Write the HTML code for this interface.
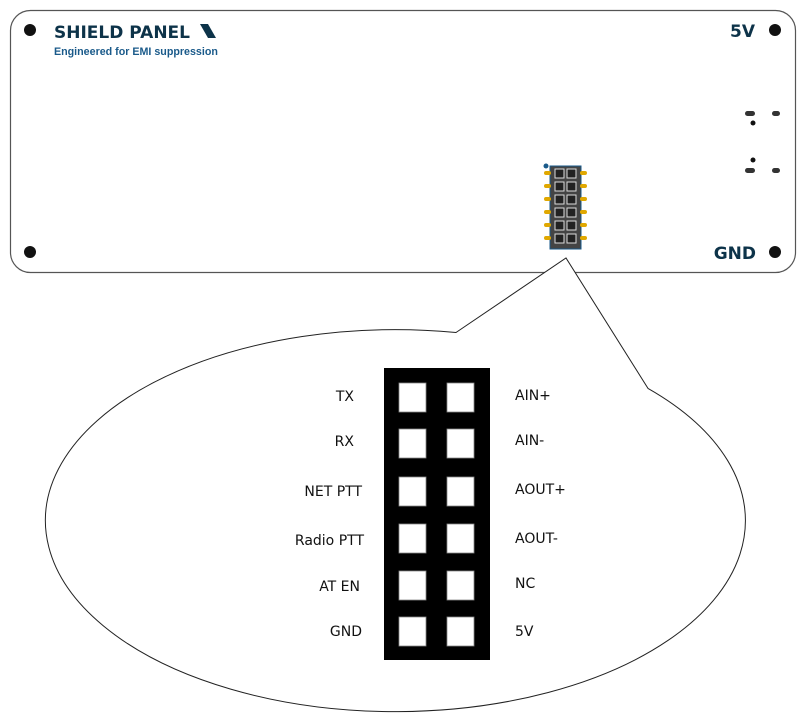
<!DOCTYPE html>
<html><head><style>
body{margin:0;background:#fff;width:806px;height:717px;overflow:hidden}
</style></head><body>
<svg width="806" height="717" viewBox="0 0 806 717" xmlns="http://www.w3.org/2000/svg" style="font-family:'DejaVu Sans',sans-serif">
<rect x="10.5" y="10.5" width="785" height="262" rx="20" fill="#fff" stroke="#555" stroke-width="1.2"/>
<circle cx="30" cy="30" r="6" fill="#111"/>
<circle cx="775" cy="30" r="6" fill="#111"/>
<circle cx="30" cy="252" r="6" fill="#111"/>
<circle cx="775" cy="252" r="6" fill="#111"/>
<text x="54" y="38" font-size="17" font-weight="bold" fill="#0d3349">SHIELD PANEL</text>
<polygon points="200,24 208,24 216,38 208,38" fill="#0d3349"/>
<text x="54" y="55" font-size="10.7" font-weight="bold" fill="#1a5a8a" font-family="Liberation Sans,sans-serif">Engineered for EMI suppression</text>
<text x="755" y="37" font-size="17" font-weight="bold" fill="#0d3349" text-anchor="end">5V</text>
<text x="756" y="259" font-size="17" font-weight="bold" fill="#0d3349" text-anchor="end">GND</text>
<rect x="745" y="111" width="10" height="5" rx="2.5" fill="#333"/>
<rect x="772" y="111" width="8" height="5" rx="2.5" fill="#333"/>
<circle cx="753" cy="123" r="2.5" fill="#111"/>
<circle cx="753" cy="160" r="2.5" fill="#111"/>
<rect x="745" y="168" width="10" height="5" rx="2.5" fill="#333"/>
<rect x="772" y="168" width="8" height="5" rx="2.5" fill="#333"/>
<circle cx="546" cy="166" r="2.5" fill="#1a5a8a"/>
<g>
<rect x="550" y="166" width="31" height="83" fill="#444" stroke="#1a5a8a" stroke-width="1"/>
<g fill="#e0a800">
<rect x="544" y="171" width="7" height="4" rx="2"/><rect x="580" y="171" width="7" height="4" rx="2"/>
<rect x="544" y="184" width="7" height="4" rx="2"/><rect x="580" y="184" width="7" height="4" rx="2"/>
<rect x="544" y="197" width="7" height="4" rx="2"/><rect x="580" y="197" width="7" height="4" rx="2"/>
<rect x="544" y="210" width="7" height="4" rx="2"/><rect x="580" y="210" width="7" height="4" rx="2"/>
<rect x="544" y="223" width="7" height="4" rx="2"/><rect x="580" y="223" width="7" height="4" rx="2"/>
<rect x="544" y="236" width="7" height="4" rx="2"/><rect x="580" y="236" width="7" height="4" rx="2"/>
</g>
<g fill="#222" stroke="#ddd" stroke-width="1">
<rect x="555" y="169" width="9" height="9"/><rect x="567" y="169" width="9" height="9"/>
<rect x="555" y="182" width="9" height="9"/><rect x="567" y="182" width="9" height="9"/>
<rect x="555" y="195" width="9" height="9"/><rect x="567" y="195" width="9" height="9"/>
<rect x="555" y="208" width="9" height="9"/><rect x="567" y="208" width="9" height="9"/>
<rect x="555" y="221" width="9" height="9"/><rect x="567" y="221" width="9" height="9"/>
<rect x="555" y="234" width="9" height="9"/><rect x="567" y="234" width="9" height="9"/>
</g>
</g>
<path d="M456,332.5 L566,258 L648,388.4 A350,191 0 1 1 456,332.5 Z" fill="#fff" stroke="#222" stroke-width="1"/>
<rect x="384" y="368" width="106" height="292" fill="#000"/>
<g fill="#fff" stroke="#888" stroke-width="0.8">
<rect x="399" y="383" width="27" height="29"/><rect x="447" y="383" width="27" height="29"/>
<rect x="399" y="429" width="27" height="29"/><rect x="447" y="429" width="27" height="29"/>
<rect x="399" y="477" width="27" height="29"/><rect x="447" y="477" width="27" height="29"/>
<rect x="399" y="524" width="27" height="29"/><rect x="447" y="524" width="27" height="29"/>
<rect x="399" y="571" width="27" height="29"/><rect x="447" y="571" width="27" height="29"/>
<rect x="399" y="617" width="27" height="29"/><rect x="447" y="617" width="27" height="29"/>
</g>
<g font-size="14" fill="#111" text-anchor="end">
<text x="354" y="401">TX</text>
<text x="354" y="446">RX</text>
<text x="362" y="496">NET PTT</text>
<text x="364" y="545">Radio PTT</text>
<text x="360" y="591">AT EN</text>
<text x="362" y="636">GND</text>
</g>
<g font-size="14" fill="#111">
<text x="515" y="400">AIN+</text>
<text x="515" y="445">AIN-</text>
<text x="515" y="494">AOUT+</text>
<text x="515" y="543">AOUT-</text>
<text x="515" y="588">NC</text>
<text x="515" y="636">5V</text>
</g>
</svg>
</body></html>
